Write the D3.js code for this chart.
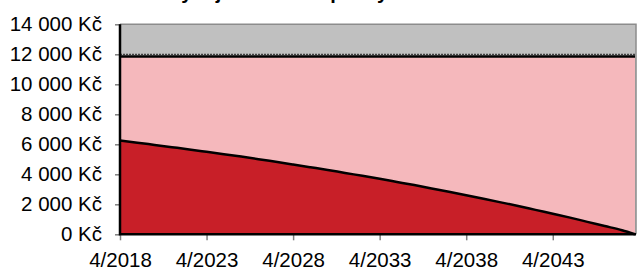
<!DOCTYPE html>
<html>
<head>
<meta charset="utf-8">
<script src="https://cdn.jsdelivr.net/npm/d3@7/dist/d3.min.js"></script>
<style>
	body { margin: 0; background: #fff; }
	svg { display: block; font-family: "Liberation Sans", Arial, sans-serif; }
</style>
</head>
<body>
<svg id="chart" width="637" height="271"></svg>
<script>
// months since 4/2018, one point per year + last payment
const months = [0, 12, 24, 36, 48, 60, 72, 84, 96, 108, 120, 132, 144, 156, 168, 180,
	192, 204, 216, 228, 240, 252, 264, 276, 288, 300, 312, 324, 336, 348, 357]
// interest part of the monthly payment (Kč)
const interest = [6250, 6110, 5960, 5810, 5660, 5500, 5340, 5180, 5010, 4830, 4650,
	4470, 4290, 4090, 3900, 3700, 3490, 3280, 3060, 2840, 2610, 2370, 2130, 1890,
	1630, 1370, 1110, 830, 550, 270, 0]
// whole monthly payment (Kč), flat
const paymentMonths = [0, 357]
const payment = [11850, 11850]
// dotted limit line
const limit = [12000, 12000]

const yTicks = [0, 2000, 4000, 6000, 8000, 10000, 12000, 14000]
const tickMonths = [0, 60, 120, 180, 240, 300]
const tickLabels = ["4/2018", "4/2023", "4/2028", "4/2033", "4/2038", "4/2043"]
const title = "Vývoj rozložení splátky"

const svg = d3.select("#chart")
const plotL = 120, plotR = 635, plotT = 24.3, plotB = 234.3

const x = d3.scaleLinear().domain([0, 357]).range([plotL, plotR])
const y = d3.scaleLinear().domain([0, 14000]).range([plotB, plotT])

const fmt = v => d3.format(",")(v).replace(/,/g, "\u00a0") + " Kč"

// title, mostly cut off by the top edge
svg.append("text")
	.attr("x", 168).attr("y", -1)
	.attr("font-size", 20).attr("font-weight", "bold")
	.text(title)

// plot background
svg.append("rect")
	.attr("x", plotL).attr("y", plotT)
	.attr("width", plotR - plotL + 1).attr("height", plotB - plotT)
	.attr("fill", "#c0c0c0")

const payData = paymentMonths.map((m, i) => ({ m: m, v: payment[i] }))
svg.append("path")
	.datum(payData)
	.attr("fill", "#f5b8bc")
	.attr("d", d3.area().x(d => x(d.m)).y0(y(0)).y1(d => y(d.v)))

const intData = months.map((m, i) => ({ m: m, v: interest[i] }))
svg.append("path")
	.datum(intData)
	.attr("fill", "#c81f28")
	.attr("d", d3.area().x(d => x(d.m)).y0(y(0)).y1(d => y(d.v)).curve(d3.curveMonotoneX))

// plot border top / right
svg.append("path")
	.attr("d", `M${plotL},${plotT}H${plotR + 1}V${plotB}`)
	.attr("fill", "none").attr("stroke", "#8c8c8c").attr("stroke-width", 1.5)

svg.append("path")
	.datum(paymentMonths.map((m, i) => ({ m: m, v: limit[i] })))
	.attr("fill", "none").attr("stroke", "#222").attr("stroke-width", 1)
	.attr("stroke-dasharray", "2,1")
	.attr("d", d3.line().x(d => x(d.m)).y(d => y(d.v)))

svg.append("path")
	.datum(payData)
	.attr("fill", "none").attr("stroke", "#000").attr("stroke-width", 2.5)
	.attr("d", d3.line().x(d => x(d.m)).y(d => y(d.v)))

svg.append("path")
	.datum(intData)
	.attr("fill", "none").attr("stroke", "#000").attr("stroke-width", 2.5)
	.attr("d", d3.line().x(d => x(d.m)).y(d => y(d.v)).curve(d3.curveMonotoneX))

// axes
const yAxis = svg.append("g")
	.attr("transform", `translate(${plotL},0)`)
	.call(d3.axisLeft(y).tickValues(yTicks).tickFormat(fmt).tickSize(5).tickPadding(13))
const xAxis = svg.append("g")
	.attr("transform", `translate(0,${plotB})`)
	.call(d3.axisBottom(x).tickValues(tickMonths).tickFormat((d, i) => tickLabels[i]).tickSize(6))

for (const g of [yAxis, xAxis]) {
	g.select(".domain").remove()
	g.selectAll(".tick line").attr("stroke", "#808080").attr("stroke-width", 1.5)
	g.selectAll("text").attr("font-size", 20.5).attr("fill", "#000")
		.attr("font-family", "'Liberation Sans', Arial, sans-serif")
}
xAxis.selectAll("text").attr("y", 33).attr("dy", 0)

// black axis lines
svg.append("path")
	.attr("d", `M${plotL},${plotT}V${plotB}H${plotR + 1}`)
	.attr("fill", "none").attr("stroke", "#000").attr("stroke-width", 2.5)
</script>
</body>
</html>
